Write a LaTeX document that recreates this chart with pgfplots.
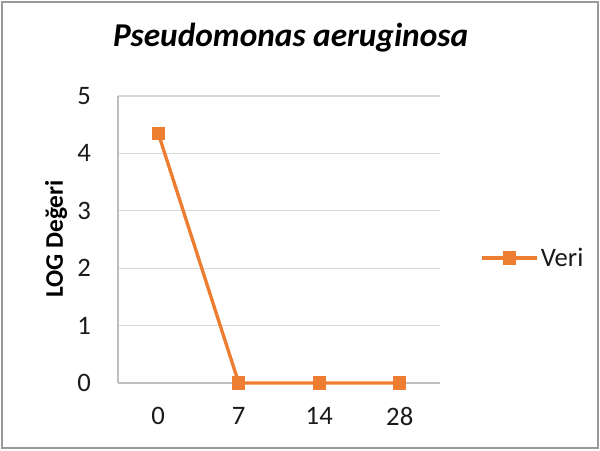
\documentclass[border=0pt]{standalone}
\usepackage{pgfplots}
\pgfplotsset{compat=1.18}
\usepackage{fontspec}
\setmainfont{Carlito}
\definecolor{xlorange}{HTML}{ED7D31}
\definecolor{gridc}{HTML}{D9D9D9}
\definecolor{axc}{HTML}{BFBFBF}
\definecolor{txt}{HTML}{1A1A1A}
\begin{document}
\begin{tikzpicture}
\path[use as bounding box] (0,0) rectangle (450pt,337.5pt);
\draw[color=gray!80, line width=0.8pt] (1.5pt,1.5pt) rectangle (448.5pt,336pt);
\begin{axis}[
  at={(88.5pt,50.25pt)}, anchor=south west,
  scale only axis, width=241.5pt, height=215.25pt,
  xmin=-0.5, xmax=3.5, ymin=0, ymax=5,
  xtick={0,1,2,3}, xticklabels={0,7,14,28},
  ytick={0,1,2,3,4,5},
  axis x line=bottom, axis y line=left,
  axis line style={draw=axc, line width=0.8pt, -},
  major tick style={draw=none},
  ymajorgrids, grid style={draw=gridc, line width=0.8pt},
  /pgf/number format/assume math mode=true,
  tick label style={font=\fontsize{20}{22}\selectfont, text=txt},
  yticklabel style={inner sep=0pt, xshift=-18pt},
  xticklabel style={inner sep=0pt, yshift=-16pt},
  title={\bfseries\itshape Pseudomonas aeruginosa},
  title style={at={(axis description cs:0.536,1.175)}, anchor=center, font=\fontsize{25}{28}\selectfont, text=black},
  ylabel={\bfseries LOG Değeri},
  ylabel style={at={(axis description cs:-0.192,0.502)}, anchor=center, rotate=0, font=\fontsize{19}{22}\selectfont, text=black},
  clip=false,
  legend style={at={(axis description cs:1.124,0.4355)}, anchor=west, draw=none, fill=none, inner sep=0pt, font=\fontsize{20}{22}\selectfont, text=txt},
  legend cell align=left,
  legend image code/.code={\draw[mark repeat=2,mark phase=2,#1] plot coordinates {(0pt,0pt) (20.5pt,0pt) (41pt,0pt)};},
]
\addplot[color=xlorange, line width=2.5pt, mark=square*, mark size=4.6pt, mark options={solid, fill=xlorange, line width=0pt}]
  coordinates {(0,4.35) (1,0) (2,0) (3,0)};
\addlegendentry{Veri}
\end{axis}
\end{tikzpicture}
\end{document}
